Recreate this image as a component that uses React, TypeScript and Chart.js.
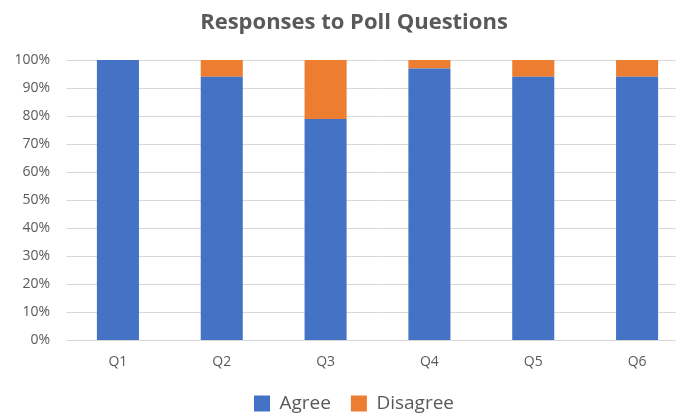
import React, { useEffect, useRef } from "react";
import { Chart, registerables } from "chart.js";

Chart.register(...registerables);

const categories = ["Q1", "Q2", "Q3", "Q4", "Q5", "Q6"];
const agree = [100, 94, 79, 97, 94, 94];
const disagree = [0, 6, 21, 3, 6, 6];
const yTicks = [0, 10, 20, 30, 40, 50, 60, 70, 80, 90, 100];

const FONT = "'Open Sans', sans-serif";
const GRAY = "#595959";

export default function App() {
  const ref = useRef<HTMLCanvasElement | null>(null);
  useEffect(() => {
    document.body.style.margin = "0";
    document.body.style.overflow = "hidden";
    const chart = new Chart(ref.current!, {
      type: "bar",
      data: {
        labels: categories,
        datasets: [
          { label: "Agree", data: agree, backgroundColor: "#4472C4", categoryPercentage: 1, barPercentage: 0.405 },
          { label: "Disagree", data: disagree, backgroundColor: "#ED7D31", categoryPercentage: 1, barPercentage: 0.405 },
        ],
      },
      options: {
        responsive: false,
        animation: false,
        layout: { padding: 0 },
        plugins: {
          title: {
            display: true,
            text: "Responses to Poll Questions",
            color: GRAY,
            font: { family: FONT, size: 22, weight: "bold" },
            padding: { top: 10, bottom: 23.6 },
          },
          legend: {
            position: "bottom",
            labels: {
              color: GRAY,
              font: { family: FONT, size: 19 },
              boxWidth: 16,
              boxHeight: 16,
              padding: 20,
            },
          },
          tooltip: { enabled: false },
        },
        scales: {
          x: {
            stacked: true,
            grid: { display: false, drawTicks: false },
            border: { display: true, color: "#d9d9d9" },
            ticks: { color: GRAY, font: { family: FONT, size: 14 }, padding: 13 },
            afterFit: (s: any) => { s.height = 33.5; },
          },
          y: {
            stacked: true,
            min: 0,
            max: 100,
            afterBuildTicks: (s: any) => { s.ticks = yTicks.map((v) => ({ value: v })); },
            grid: { color: "#d9d9d9", drawTicks: false },
            border: { display: false },
            ticks: {
              color: GRAY,
              font: { family: FONT, size: 14 },
              padding: 16,
              callback: (v: any) => v + "%",
            },
            afterFit: (s: any) => { s.width = 66; },
          },
          yRight: {
            type: "linear",
            position: "right",
            display: true,
            grid: { display: false, drawTicks: false },
            border: { display: false },
            ticks: { display: false },
            afterFit: (s: any) => { s.width = 19; },
          },
        },
      },
    });
    return () => chart.destroy();
  }, []);
  return <canvas ref={ref} width={708} height={423} />;
}
